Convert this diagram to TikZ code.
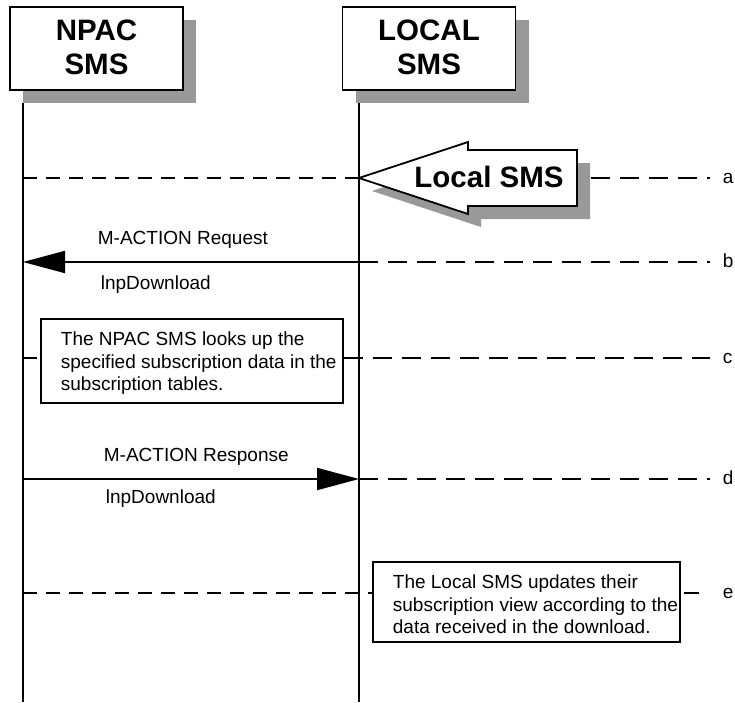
\documentclass[tikz,border=0pt]{standalone}
\usepackage{fontspec}
\setmainfont{Liberation Sans}
\usetikzlibrary{arrows.meta}
\definecolor{shadowgray}{RGB}{153,153,153}
\begin{document}
\begin{tikzpicture}[x=1pt,y=-1pt,line width=1.8pt,
  hdrbox/.style={draw,fill=white,minimum width=173pt,minimum height=83pt,inner sep=0pt},
  hdrshadow/.style={fill=shadowgray,draw=none,minimum width=173pt,minimum height=83pt,inner sep=0pt},
  hdrtext/.style={font=\bfseries\fontsize{29.5}{34}\selectfont,align=center,inner sep=0pt},
  msg/.style={font=\fontsize{19}{22.5}\selectfont,inner sep=0pt},
  notebox/.style={draw,fill=white,inner sep=0pt},
  notetext/.style={font=\fontsize{19}{22.5}\selectfont,align=left,inner sep=0pt,anchor=north west},
  dashL/.style={dash pattern=on 14pt off 9pt},
  dashR/.style={dash pattern=on 19pt off 10pt},
  msgarrow/.style={-{Triangle[length=42pt,width=22pt]}}
]
\useasboundingbox (0,0) rectangle (735,702);

% header boxes
\node[hdrshadow] (npacsh) at (109.5,61.5) {};
\node[hdrbox] (npac) at (96.5,48.5) {};
\node[hdrtext] (npact) at (96.5,47) {NPAC\\SMS};
\node[hdrshadow] (localsh) at (442,61.5) {};
\node[hdrbox] (local) at (429,48.5) {};
\node[hdrtext] (localt) at (429,47) {LOCAL\\SMS};

% lifeline coordinates
\coordinate (n0) at (23,103);
\coordinate (n1) at (23,702);
\coordinate (l0) at (359,103);
\coordinate (l1) at (359,702);
\draw (n0) -- (n1);
\draw (l0) -- (l1);

% row coordinates
\coordinate (na) at (23,178);  \coordinate (la) at (359,178);  \coordinate (a2) at (591,178); \coordinate (ra) at (710,178);
\coordinate (nb) at (23,262);  \coordinate (lb) at (359,262);  \coordinate (rb) at (710,262);
\coordinate (nc) at (23,358);  \coordinate (rc) at (710,358);
\coordinate (nd) at (23,479);  \coordinate (ld) at (359,479);  \coordinate (rd) at (710,479);
\coordinate (ne) at (23,593);  \coordinate (re) at (710,593);

% row a
\draw[dashL] (na) -- (la);
\draw[dashR] (a2) -- (ra);
\fill[shadowgray] (372,191) -- (481,155) -- (481,163) -- (590,163) -- (590,219) -- (481,219) -- (481,227) -- cycle;
\draw[fill=white,line join=miter] (359,178) -- (468,142) -- (468,150) -- (577,150) -- (577,206) -- (468,206) -- (468,214) -- cycle;
\node[font=\bfseries\fontsize{29.5}{34}\selectfont,inner sep=0pt] (lsms) at (489,176.5) {Local SMS};

% row b
\draw[msgarrow] (lb) -- (nb);
\draw[dashR] (lb) -- (rb);
\node[msg,anchor=base west] (reqt) at (97,244) {M-ACTION Request};
\node[msg,anchor=base west] (reqd) at (100,289) {lnpDownload};

% row c
\node[notebox,minimum width=302pt,minimum height=84pt] (cbox) at (192,361) {};
\draw[dashL] (nc) -- (cbox.west |- nc);
\draw[dashR] (cbox.east |- nc) -- (rc);
\node[notetext] (ctext) at (60,331) {The NPAC SMS looks up the\\specified subscription data in the\\subscription tables.};

% row d
\draw[msgarrow] (nd) -- (ld);
\draw[dashR] (ld) -- (rd);
\node[msg,anchor=base west] (rest) at (103,461) {M-ACTION Response};
\node[msg,anchor=base west] (resd) at (105,503) {lnpDownload};

% row e
\node[notebox,minimum width=307pt,minimum height=80pt] (ebox) at (526.5,602) {};
\draw[dashL] (ne) -- (ebox.west |- ne);
\draw[dash pattern=on 0pt off 3pt on 15pt off 40pt] (ebox.east |- ne) -- (re);
\node[notetext] (etext) at (392,574) {The Local SMS updates their\\subscription view according to the\\data received in the download.};

% labels
\node[msg,anchor=base west] (lbla) at (722,183) {a};
\node[msg,anchor=base west] (lblb) at (722,267) {b};
\node[msg,anchor=base west] (lblc) at (722,363) {c};
\node[msg,anchor=base west] (lbld) at (722,484) {d};
\node[msg,anchor=base west] (lble) at (722,598) {e};
\end{tikzpicture}
\end{document}
